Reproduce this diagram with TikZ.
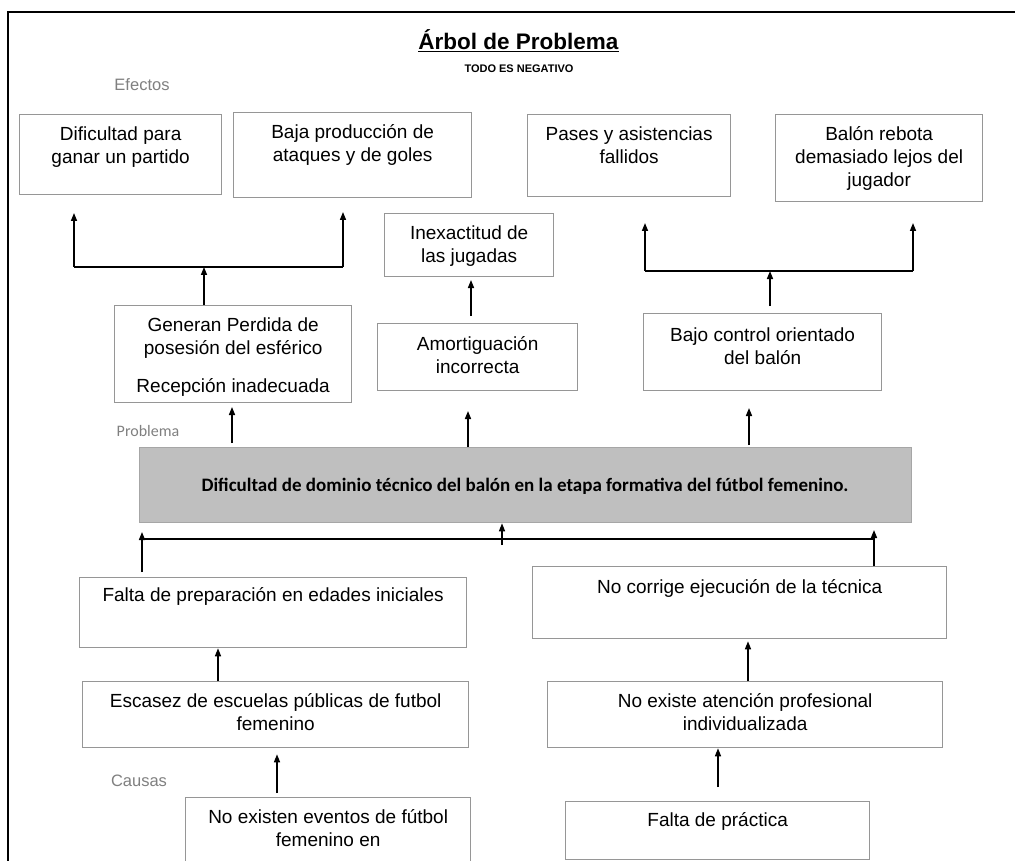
\documentclass[tikz,border=0pt]{standalone}
\usepackage{fontspec}
\setmainfont{Liberation Sans}
\newfontfamily\calfont{Carlito}
\usetikzlibrary{arrows.meta}
\definecolor{boxgray}{RGB}{150,150,150}
\definecolor{labgray}{RGB}{128,128,128}
\definecolor{probfill}{RGB}{191,191,191}
\begin{document}
\begin{tikzpicture}[x=1pt,y=-1pt,
 box/.style={draw=boxgray,line width=1.3pt,inner sep=0,anchor=north west,fill=white},
 txt/.style={align=center,anchor=north,inner sep=0,font=\fontsize{19}{23}\selectfont},
 lab/.style={text=labgray,inner sep=0,font=\fontsize{16.5}{20}\selectfont},
 conn/.style={line width=1.5pt},
 arr/.style={line width=1.5pt,-{Triangle[length=8pt,width=6pt]}}]
\useasboundingbox (0,0) rectangle (1015,861);
\fill[white] (0,0) rectangle (1015,861);
% frame
\draw[line width=2pt] (8,870) -- (8,12.5) -- (1020,12.5);
% title
\node[anchor=base,inner sep=0,font=\bfseries\fontsize{22.5}{27}\selectfont] (title) at (518.5,50) {\underline{Árbol de Problema}};
\node[inner sep=0,font=\bfseries\fontsize{11}{12}\selectfont] (sub) at (519,69) {TODO ES NEGATIVO};
\node[lab] (efectos) at (142,85) {Efectos};
\node[lab,font=\calfont\fontsize{16}{19}\selectfont] (problema) at (148,431) {Problema};
\node[lab] (causas) at (139,781) {Causas};
% effect boxes
\node[box,minimum width=202pt,minimum height=80pt] (b1) at (19,114) {};
\node[box,minimum width=238pt,minimum height=85pt] (b2) at (233,112) {};
\node[box,minimum width=203pt,minimum height=82pt] (b3) at (527,114) {};
\node[box,minimum width=207pt,minimum height=87pt] (b4) at (775,114) {};
\node[box,minimum width=169pt,minimum height=63pt] (b5) at (384,213) {};
\node[box,minimum width=237pt,minimum height=97pt] (b6) at (114,305) {};
\node[box,minimum width=200pt,minimum height=67pt] (b7) at (377,323) {};
\node[box,minimum width=238pt,minimum height=77pt] (b8) at (643,313) {};
% problem
\node[box,draw=boxgray!85,fill=probfill,minimum width=772pt,minimum height=75pt] (prob) at (139,447) {};
\node[inner sep=0,font=\calfont\bfseries\fontsize{19}{23}\selectfont] (probt) at (525,486) {Dificultad de dominio técnico del balón en la etapa formativa del fútbol femenino.};
% cause boxes
\node[box,minimum width=387pt,minimum height=70pt] (b9) at (79,577) {};
\node[box,minimum width=414pt,minimum height=72pt] (b10) at (532,566) {};
\node[box,minimum width=386pt,minimum height=66pt] (b11) at (82,681) {};
\node[box,minimum width=395pt,minimum height=66pt] (b12) at (547,681) {};
\node[box,minimum width=285pt,minimum height=90pt] (b13) at (185,797) {};
\node[box,minimum width=304pt,minimum height=58pt] (b14) at (565,801) {};
% texts
\node[txt] (t1) at (b1.north |- 0,124.4) {\strut Dificultad para\\ganar un partido};
\node[txt] (t2) at (b2.north |- 0,122.4) {\strut Baja producción de\\ataques y de goles};
\node[txt] (t3) at (b3.north |- 0,124.4) {\strut Pases y asistencias\\fallidos};
\node[txt] (t4) at (b4.north |- 0,124.4) {\strut Balón rebota\\demasiado lejos del\\jugador};
\node[txt] (t5) at (b5.north |- 0,223.4) {\strut Inexactitud de\\las jugadas};
\node[txt] (t6) at (b6.north |- 0,315.4) {\strut Generan Perdida de\\posesión del esférico\\[15pt]Recepción inadecuada};
\node[txt] (t7) at (b7.north |- 0,334.4) {\strut Amortiguación\\incorrecta};
\node[txt] (t8) at (b8.north |- 0,325.4) {\strut Bajo control orientado\\del balón};
\node[txt] (t9) at (b9.north |- 0,585.4) {\strut Falta de preparación en edades iniciales};
\node[txt] (t10) at (b10.north |- 0,577.4) {\strut No corrige ejecución de la técnica};
\node[txt] (t11) at (b11.north |- 0,691.4) {\strut Escasez de escuelas públicas de futbol\\femenino};
\node[txt] (t12) at (b12.north |- 0,691.4) {\strut No existe atención profesional\\individualizada};
\node[txt] (t13) at (b13.north |- 0,807.4) {\strut No existen eventos de fútbol\\femenino en};
\node[txt] (t14) at (b14.north |- 0,810.4) {\strut Falta de práctica};
% upper left bracket
\coordinate (lbL) at (74,267); \coordinate (lbR) at (343,267); \coordinate (lbC) at (204,267);
\coordinate (tL) at (74,213); \coordinate (tR) at (343,212);
\draw[conn] (lbL) -- (lbR);
\draw[arr] (lbL) -- (tL);
\draw[arr] (lbR) -- (tR);
\draw[arr] (b6.north -| lbC) -- (lbC);
% middle
\coordinate (mS) at (471,316); \coordinate (mT) at (471,280);
\draw[arr] (mS) -- (mT);
% upper right bracket
\coordinate (rbL) at (645,271); \coordinate (rbR) at (913,271); \coordinate (rbC) at (770,271);
\coordinate (rL) at (645,223); \coordinate (rR) at (913,223); \coordinate (rS) at (770,306);
\draw[conn] (rbL) -- (rbR);
\draw[arr] (rbL) -- (rL);
\draw[arr] (rbR) -- (rR);
\draw[arr] (rS) -- (rbC);
% problem to effects
\coordinate (p1) at (232,407); \coordinate (p2) at (468,411); \coordinate (p3) at (749,408);
\draw[arr] (prob.north -| p1) ++(0,-4) -- (p1);
\draw[arr] (prob.north -| p2) -- (p2);
\draw[arr] (prob.north -| p3) ++(0,-2) -- (p3);
% lower bracket
\coordinate (cL) at (142,539); \coordinate (cR) at (874,539); \coordinate (cC) at (502,545);
\coordinate (cLt) at (142,532); \coordinate (cRt) at (874,530);
\draw[conn] (cL) -- (cR);
\draw[arr] (b9.north -| cL) ++(0,-5) -- (cLt);
\draw[arr] (b10.north -| cR) -- (cRt);
\draw[arr] (cC) -- (prob.south -| cC);
% causes
\coordinate (k1) at (218,0); \coordinate (k2) at (748,0); \coordinate (k3) at (277,0); \coordinate (k4) at (718,0);
\draw[arr] (b11.north -| k1) -- (b9.south -| k1);
\draw[arr] (b12.north -| k2) -- ([yshift=-2pt]b10.south -| k2);
\draw[arr] ([yshift=4pt]b13.north -| k3) -- ([yshift=-6pt]b11.south -| k3);
\draw[arr] ([yshift=14pt]b14.north -| k4) -- (b12.south -| k4);
\end{tikzpicture}
\end{document}
